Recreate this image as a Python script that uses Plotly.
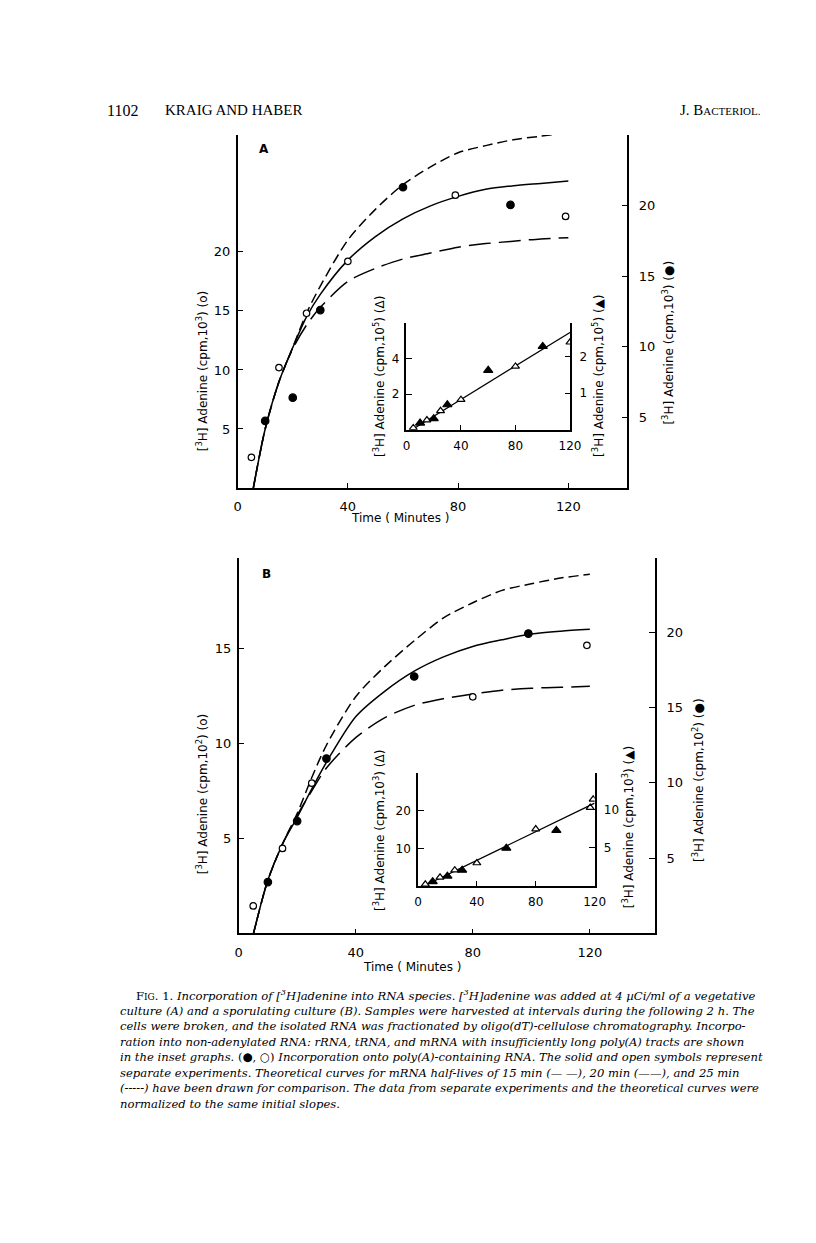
import plotly.graph_objects as go

W, H = 816, 1243

# ---------------- Data: panel A (vegetative culture) ----------------
A_t_open = [5, 15, 25, 40, 79, 119]
A_open = [2.6, 10.2, 14.8, 19.2, 24.8, 23.0]          # left axis, cpm x10^3 (o)
A_t_filled = [10, 20, 30, 60, 99]
A_filled = [4.75, 6.4, 12.6, 21.3, 20.05]             # right axis, cpm x10^3 (filled)

A_curve_t = [5.7, 10, 15, 20, 25, 30, 40, 50, 60, 70, 80, 90, 100, 110, 120]
A_curve_25 = [0, 5.0, 9.0, 11.9, 14.8, 17.1, 21.0, 23.6, 25.7, 27.2, 28.4, 29.0, 29.5, 29.8, 30.1]
A_curve_20 = [0, 5.0, 9.0, 11.9, 14.5, 16.4, 19.3, 21.3, 22.8, 23.9, 24.7, 25.3, 25.6, 25.8, 26.0]
A_curve_15 = [0, 5.0, 9.0, 11.8, 13.8, 15.3, 17.5, 18.6, 19.4, 19.9, 20.4, 20.7, 20.9, 21.1, 21.2]

# inset A (non-adenylated RNA)
A_in_t_open = [5, 15, 25, 40, 80, 120]
A_in_open = [0.1, 0.54, 1.06, 1.68, 3.55, 4.9]        # left, cpm x10^5 (open triangle)
A_in_t_filled = [10, 20, 30, 60, 100]
A_in_filled = [0.18, 0.30, 0.68, 1.62, 2.27]          # right, cpm x10^5 (filled triangle)
A_in_line_t = [4, 120]
A_in_line = [0, 5.45]

# ---------------- Data: panel B (sporulating culture) ----------------
B_t_open = [5, 15, 25, 80, 119]
B_open = [1.44, 4.47, 7.9, 12.45, 15.16]              # left, cpm x10^2 (o)
B_t_filled = [10, 20, 30, 60, 99]
B_filled = [3.4, 7.45, 11.6, 17.05, 19.9]             # right, cpm x10^2 (filled)

B_curve_t = [5.1, 10, 15, 20, 25, 30, 40, 50, 60, 70, 80, 90, 100, 110, 120]
B_curve_25 = [0, 2.8, 4.7, 6.3, 8.2, 9.9, 12.45, 14.05, 15.4, 16.6, 17.4, 18.05, 18.4, 18.7, 18.9]
B_curve_20 = [0, 2.8, 4.7, 6.1, 7.6, 9.0, 11.4, 12.75, 13.8, 14.55, 15.1, 15.45, 15.75, 15.9, 16.0]
B_curve_15 = [0, 2.8, 4.7, 6.2, 7.5, 8.7, 10.3, 11.35, 12.0, 12.35, 12.6, 12.8, 12.9, 12.95, 13.0]

# inset B
B_in_t_open = [5, 15, 25, 40, 80, 117, 119]
B_in_open = [0.45, 2.3, 4.2, 6.1, 15.1, 20.8, 23.0]   # left, cpm x10^3 (open triangle)
B_in_t_filled = [10, 20, 30, 60, 94]
B_in_filled = [0.56, 1.29, 2.07, 4.94, 7.25]          # right, cpm x10^3 (filled triangle)
B_in_line_t = [4, 120]
B_in_line = [0, 22]

time_ticks = [0, 40, 80, 120]
A_left_ticks = [5, 10, 15, 20]
A_right_ticks = [5, 10, 15, 20]
B_left_ticks = [5, 10, 15]
B_right_ticks = [5, 10, 15, 20]
A_in_left_ticks = [2, 4]
A_in_right_ticks = [1, 2]
B_in_left_ticks = [10, 20]
B_in_right_ticks = [5, 10]

# ---------------- helpers ----------------
def xd(a, b):
    return [a / W, b / W]

def yd(top, bottom):
    return [1 - bottom / H, 1 - top / H]

BLACK = "black"
SANS = "DejaVu Sans"
SERIF = "DejaVu Serif"

fig = go.Figure()

def curve(x, y, xa, ya, dash):
    fig.add_trace(go.Scatter(x=x, y=y, xaxis=xa, yaxis=ya, mode="lines",
                             line=dict(color=BLACK, width=1.5, dash=dash, shape="spline", smoothing=0.8),
                             hoverinfo="skip"))

def pts(x, y, xa, ya, symbol, size, fill="black"):
    fig.add_trace(go.Scatter(x=x, y=y, xaxis=xa, yaxis=ya, mode="markers",
                             marker=dict(symbol=symbol, size=size, color=fill,
                                         line=dict(color=BLACK, width=1.2))))

# Panel A
curve(A_curve_t, A_curve_25, "x", "y", "10px,5px")
curve(A_curve_t, A_curve_20, "x", "y", "solid")
curve(A_curve_t, A_curve_15, "x", "y", "22px,8px")
pts(A_t_open, A_open, "x", "y", "circle", 6.5, "white")
pts(A_t_filled, A_filled, "x", "y2", "circle", 7.5)

# Inset A
fig.add_trace(go.Scatter(x=A_in_line_t, y=A_in_line, xaxis="x2", yaxis="y3", mode="lines",
                         line=dict(color=BLACK, width=1.3)))
pts(A_in_t_open, A_in_open, "x2", "y3", "triangle-up", 7, "white")
pts(A_in_t_filled, A_in_filled, "x2", "y4", "triangle-up", 8)

# Panel B
curve(B_curve_t, B_curve_25, "x3", "y5", "10px,5px")
curve(B_curve_t, B_curve_20, "x3", "y5", "solid")
curve(B_curve_t, B_curve_15, "x3", "y5", "22px,8px")
pts(B_t_open, B_open, "x3", "y5", "circle", 6.5, "white")
pts(B_t_filled, B_filled, "x3", "y6", "circle", 7.5)

# Inset B
fig.add_trace(go.Scatter(x=B_in_line_t, y=B_in_line, xaxis="x4", yaxis="y7", mode="lines",
                         line=dict(color=BLACK, width=1.3)))
pts(B_in_t_open, B_in_open, "x4", "y7", "triangle-up", 7, "white")
pts(B_in_t_filled, B_in_filled, "x4", "y8", "triangle-up", 8)

tickfont = dict(family=SANS, size=13, color=BLACK)
small_tickfont = dict(family=SANS, size=12, color=BLACK)

def xaxis(dom, rng, anchor, font, standoff):
    return dict(domain=dom, range=rng, anchor=anchor, showgrid=False, zeroline=False,
                showline=True, linecolor=BLACK, linewidth=1.5, ticks="inside", ticklen=5,
                tickwidth=1.3, tickcolor=BLACK, tickvals=time_ticks, tickfont=font,
                ticklabelstandoff=standoff)

def yaxis(dom, rng, anchor, ticks, font, side="left", overlaying=None, standoff=3):
    d = dict(domain=dom, range=rng, anchor=anchor, side=side, showgrid=False, zeroline=False,
             showline=True, linecolor=BLACK, linewidth=1.5, ticks="inside", ticklen=6,
             tickwidth=1.3, tickcolor=BLACK, tickvals=ticks, tickfont=font,
             ticklabelstandoff=standoff)
    if overlaying:
        d["overlaying"] = overlaying
    return d

A_dom_y = yd(135, 488)
A_in_dom_y = yd(323, 429.7)
B_dom_y = yd(558.3, 933.3)
B_in_dom_y = yd(773.3, 886)

fig.update_layout(
    width=W, height=H, margin=dict(l=0, r=0, t=0, b=0),
    paper_bgcolor="white", plot_bgcolor="rgba(0,0,0,0)", showlegend=False,
    xaxis=xaxis(xd(238, 635), [0, 141.4], "y", tickfont, 6),
    yaxis=yaxis(A_dom_y, [0, 29.9], "x", A_left_ticks, tickfont),
    yaxis2=yaxis(A_dom_y, [0, 25.0], "x", A_right_ticks, tickfont, "right", "y", 7),
    xaxis2=xaxis(xd(410, 577), [0, 120.3], "y3", small_tickfont, 4),
    yaxis3=yaxis(A_in_dom_y, [0, 5.98], "x2", A_in_left_ticks, small_tickfont),
    yaxis4=yaxis(A_in_dom_y, [0, 2.91], "x2", A_in_right_ticks, small_tickfont, "right", "y3", 5),
    xaxis3=xaxis(xd(239, 663.3), [0, 142.3], "y5", tickfont, 6),
    yaxis5=yaxis(B_dom_y, [0, 19.74], "x3", B_left_ticks, tickfont),
    yaxis6=yaxis(B_dom_y, [0, 24.9], "x3", B_right_ticks, tickfont, "right", "y5", 7),
    xaxis4=xaxis(xd(421.7, 601.7), [0, 120], "y7", small_tickfont, 4),
    yaxis7=yaxis(B_in_dom_y, [0, 29.9], "x4", B_in_left_ticks, small_tickfont),
    yaxis8=yaxis(B_in_dom_y, [0, 14.7], "x4", B_in_right_ticks, small_tickfont, "right", "y7", 5),
)

anns = []

def text(x, y, s, size=12, family=SANS, angle=0, xanchor="center", color=BLACK):
    anns.append(dict(x=x / W, y=1 - y / H, xref="paper", yref="paper", text=s, showarrow=False,
                     textangle=angle, xanchor=xanchor, yanchor="middle",
                     font=dict(family=family, size=size, color=color)))

sup3 = "<sup>3</sup>"
# header
text(103, 110, "1102", size=16, family="Liberation Serif", xanchor="left")
text(162, 110, "KRAIG AND HABER", size=15, family="Liberation Serif", xanchor="left")
text(687, 110, "J. B<span style='font-size:11px'>ACTERIOL.</span>", size=15,
     family="Liberation Serif", xanchor="left")

# panel letters
text(265, 149, "<b>A</b>", size=12)
text(267, 574, "<b>B</b>", size=12)

# axis titles panel A
text(403, 518, "Time ( Minutes )", size=12)
text(202, 371, "[" + sup3 + "H] Adenine (cpm,10" + sup3 + ") (o)", angle=-90)
text(676, 343, "[" + sup3 + "H] Adenine (cpm,10" + sup3 + ") (●)", angle=-90)
text(382, 376, "[" + sup3 + "H] Adenine (cpm,10<sup>5</sup>) (Δ)", angle=-90)
text(605, 376, "[" + sup3 + "H] Adenine (cpm,10<sup>5</sup>) (▲)", angle=-90)

# axis titles panel B
sup2 = "<sup>2</sup>"
text(416, 967, "Time ( Minutes )", size=12)
text(202, 794, "[" + sup3 + "H] Adenine (cpm,10" + sup2 + ") (o)", angle=-90)
text(707, 780, "[" + sup3 + "H] Adenine (cpm,10" + sup2 + ") (●)", angle=-90)
text(382, 830, "[" + sup3 + "H] Adenine (cpm,10" + sup3 + ") (Δ)", angle=-90)
text(636, 827, "[" + sup3 + "H] Adenine (cpm,10" + sup3 + ") (▲)", angle=-90)

# caption
caption = [
    "F<span style='font-size:9px'>IG</span>. 1. <i>Incorporation of [" + sup3 + "H]adenine into RNA species. [" + sup3 +
    "H]adenine was added at 4 µCi/ml of a vegetative</i>",
    "<i>culture (A) and a sporulating culture (B). Samples were harvested at intervals during the following 2 h. The</i>",
    "<i>cells were broken, and the isolated RNA was fractionated by oligo(dT)-cellulose chromatography. Incorpo-</i>",
    "<i>ration into non-adenylated RNA: rRNA, tRNA, and mRNA with insufficiently long poly(A) tracts are shown</i>",
    "<i>in the inset graphs.</i> (●, ○) <i>Incorporation onto poly(A)-containing RNA. The solid and open symbols represent</i>",
    "<i>separate experiments. Theoretical curves for mRNA half-lives of 15 min (— —), 20 min (——), and 25 min</i>",
    "<i>(-----) have been drawn for comparison. The data from separate experiments and the theoretical curves were</i>",
    "<i>normalized to the same initial slopes.</i>",
]
for i, line in enumerate(caption):
    x0 = 132 if i == 0 else 116
    text(x0, 995 + i * 15.5, line, size=11.6, family=SERIF, xanchor="left")

fig.update_layout(annotations=anns)
fig.write_html("out.html", config={"displayModeBar": False},
               post_script="document.body.style.margin='0px';")
